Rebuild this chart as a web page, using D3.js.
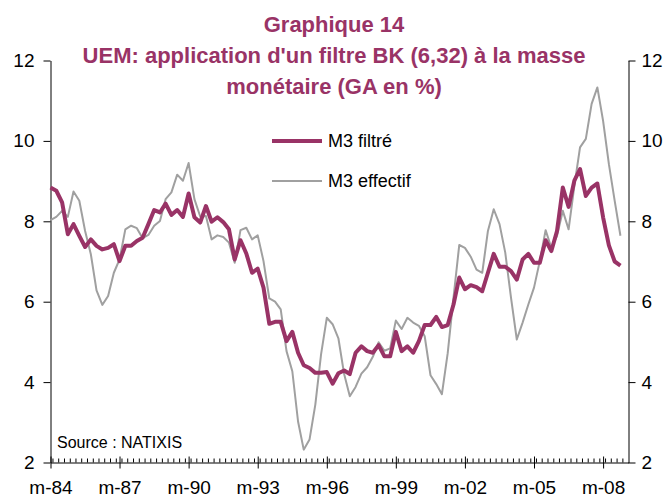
<!DOCTYPE html>
<html>
<head>
<meta charset="utf-8">
<script src="https://cdn.jsdelivr.net/npm/d3@7"></script>
<style>
  body { margin: 0; background: #fff; }
  svg { display: block; font-family: "Liberation Sans", Arial, sans-serif; }
</style>
</head>
<body>
<svg id="chart"></svg>
<script>
(function () {
    const W = 666;
    const H = 499;

    // quarterly data, Q1 1984 -> Q4 2008 (points in March, June, September, December)
    const firstYear = 1984;
    const m3Filtre = [
        8.84, 8.76, 8.47, 7.68, 7.93, 7.64, 7.36, 7.55, 7.39, 7.30,
        7.34, 7.43, 7.01, 7.39, 7.39, 7.51, 7.59, 7.93, 8.28, 8.22,
        8.44, 8.16, 8.28, 8.11, 8.69, 8.10, 7.97, 8.38, 7.99, 8.10,
        7.98, 7.80, 7.05, 7.53, 7.20, 6.72, 6.82, 6.35, 5.45, 5.50,
        5.50, 5.02, 5.25, 4.73, 4.42, 4.35, 4.23, 4.23, 4.25, 3.96,
        4.22, 4.29, 4.20, 4.73, 4.89, 4.77, 4.73, 4.92, 4.64, 4.64,
        5.25, 4.77, 4.89, 4.73, 5.02, 5.42, 5.42, 5.62, 5.37, 5.42,
        5.93, 6.60, 6.31, 6.41, 6.36, 6.26, 6.72, 7.19, 6.87, 6.87,
        6.76, 6.55, 7.05, 7.19, 6.97, 6.97, 7.53, 7.26, 7.76, 8.84,
        8.36, 9.01, 9.30, 8.63, 8.84, 8.94, 8.10, 7.40, 7.00, 6.90
    ];
    const m3Effectif = [
        8.03, 8.11, 8.26, 8.11, 8.74, 8.51, 7.76, 7.18, 6.28, 5.92,
        6.14, 6.72, 7.05, 7.80, 7.89, 7.83, 7.58, 7.66, 7.89, 8.01,
        8.55, 8.72, 9.16, 9.01, 9.45, 8.55, 8.12, 8.13, 7.55, 7.65,
        7.61, 7.47, 6.97, 7.78, 7.84, 7.55, 7.65, 7.01, 6.08, 6.00,
        5.81, 4.77, 4.27, 3.02, 2.32, 2.57, 3.44, 4.69, 5.60, 5.44,
        5.09, 4.20, 3.65, 3.88, 4.21, 4.37, 4.63, 4.99, 4.78, 4.84,
        5.53, 5.32, 5.60, 5.48, 5.40, 5.14, 4.17, 3.95, 3.70, 4.72,
        6.10, 7.41, 7.34, 7.12, 6.80, 6.72, 7.76, 8.30, 7.93, 7.22,
        6.10, 5.06, 5.48, 5.93, 6.35, 7.01, 7.78, 7.34, 7.64, 8.26,
        7.80, 8.88, 9.84, 10.05, 10.92, 11.33, 10.50, 9.42, 8.51, 7.64
    ];
    const yTicks = [2, 4, 6, 8, 10, 12];
    const labelYears = [1984, 1987, 1990, 1993, 1996, 1999, 2002, 2005, 2008];
    const titleLines = [
        "Graphique 14",
        "UEM: application d'un filtre BK (6,32) à la masse",
        "monétaire (GA en %)"
    ];
    const seriesNames = ["M3 filtré", "M3 effectif"];
    const sourceText = "Source : NATIXIS";

    const purple = "#993366";
    const grey = "#a0a0a0";

    const quarters = m3Filtre.map((_, i) => new Date(firstYear + Math.floor(i / 4), 2 + 3 * (i % 4), 1));

    const svg = d3.select("#chart")
        .attr("width", W)
        .attr("height", H);

    const x = d3.scaleTime()
        .domain([new Date(1984, 2, 1), new Date(2009, 3, 8)])
        .range([50.5, 628.5]);

    const y = d3.scaleLinear()
        .domain([2, 12])
        .range([462.5, 60.5]);

    // title
    svg.append("g")
        .selectAll("text")
        .data(titleLines)
        .enter().append("text")
        .attr("x", 334)
        .attr("y", (d, i) => 32 + i * 31)
        .attr("text-anchor", "middle")
        .attr("font-size", 22)
        .attr("font-weight", "bold")
        .attr("fill", purple)
        .text(d => d);

    // minor quarterly ticks (pointing up)
    const minorDates = d3.timeMonth.every(3).range(new Date(1984, 2, 1), new Date(2009, 3, 1));
    svg.append("g")
        .attr("transform", `translate(0,${y(2)})`)
        .call(d3.axisBottom(x).tickValues(minorDates).tickSize(-4).tickFormat("").tickSizeOuter(0))
        .call(g => g.select(".domain").remove());

    // x axis with major ticks every 3 years
    const majorDates = labelYears.map(yr => new Date(yr, 2, 1));
    const xAxis = svg.append("g")
        .attr("class", "x-axis")
        .attr("transform", `translate(0,${y(2)})`)
        .call(d3.axisBottom(x)
            .tickValues(majorDates)
            .tickSize(6)
            .tickPadding(12)
            .tickSizeOuter(0)
            .tickFormat(d => "m-" + d3.timeFormat("%y")(d)));
    xAxis.selectAll(".tick line").attr("y1", -6);
    xAxis.selectAll("text").attr("font-size", 19).attr("fill", "#000");
    xAxis.attr("font-family", null);

    // left y axis
    const yLeft = svg.append("g")
        .attr("transform", `translate(${x.range()[0]},0)`)
        .call(d3.axisLeft(y).tickValues(yTicks).tickSize(7).tickPadding(9).tickSizeOuter(0));
    yLeft.selectAll("text").attr("font-size", 19).attr("fill", "#000");
    yLeft.attr("font-family", null);

    // right y axis
    const yRight = svg.append("g")
        .attr("transform", `translate(${x.range()[1]},0)`)
        .call(d3.axisRight(y).tickValues(yTicks).tickSize(7).tickPadding(6).tickSizeOuter(0));
    yRight.selectAll("text").attr("font-size", 19).attr("fill", "#000");
    yRight.attr("font-family", null);

    // lines
    const line = d3.line()
        .x((d, i) => x(quarters[i]))
        .y(d => y(d));

    svg.append("path")
        .datum(m3Effectif)
        .attr("fill", "none")
        .attr("stroke", grey)
        .attr("stroke-width", 2)
        .attr("stroke-linejoin", "round")
        .attr("d", line);

    svg.append("path")
        .datum(m3Filtre)
        .attr("fill", "none")
        .attr("stroke", purple)
        .attr("stroke-width", 4)
        .attr("stroke-linejoin", "round")
        .attr("d", line);

    // legend
    const legend = svg.append("g");
    const legendItems = [
        { name: seriesNames[0], color: purple, width: 4, y: 141 },
        { name: seriesNames[1], color: grey, width: 2, y: 181 }
    ];
    legendItems.forEach(item => {
        legend.append("line")
            .attr("x1", 272).attr("x2", 322)
            .attr("y1", item.y).attr("y2", item.y)
            .attr("stroke", item.color)
            .attr("stroke-width", item.width);
        legend.append("text")
            .attr("x", 328)
            .attr("y", item.y + 6)
            .attr("font-size", 18)
            .attr("fill", "#000")
            .text(item.name);
    });

    // source
    svg.append("text")
        .attr("x", 57)
        .attr("y", 448)
        .attr("font-size", 16)
        .attr("fill", "#000")
        .text(sourceText);
})();
</script>
</body>
</html>
